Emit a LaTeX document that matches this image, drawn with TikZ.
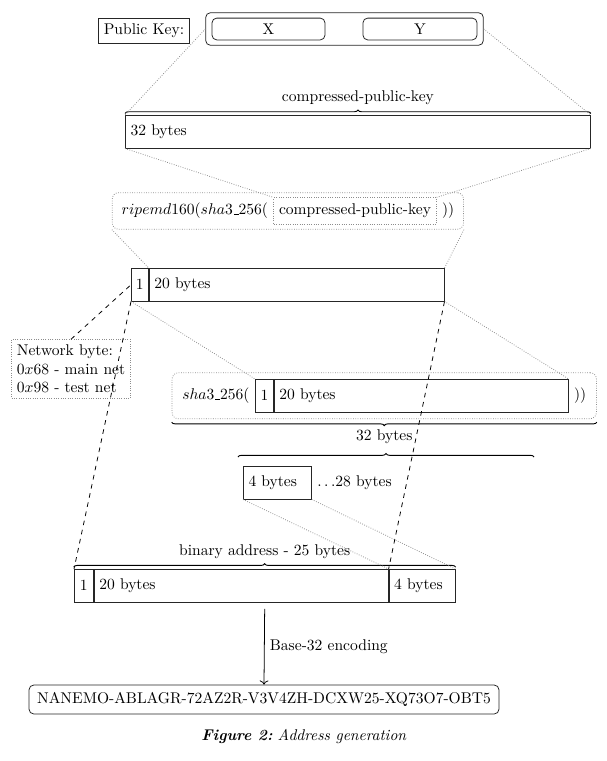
\documentclass[tikz,border=0pt]{standalone}
\usepackage{tikz}
\usepackage{xcolor}
\usetikzlibrary{
    arrows.meta,
    positioning,
    fit,
    decorations.pathreplacing
}
\definecolor{frame}{HTML}{262626}
\definecolor{guide}{HTML}{8C8C8C}
% short underscore as in sha3_256
\newcommand{\uscore}{\mbox{\kern.06em\vbox{\hrule width.3em}}}
\tikzset{
    % Byte field with left aligned text
    fieldcell/.style={
        rectangle,
        draw=frame,
        line width=0.5pt,
        minimum height=21pt,
        inner xsep=3.3pt,
        inner ysep=0pt,
        text width=#1,
        align=left
    },
    % Single byte cell
    bytecell/.style={
        rectangle,
        draw=frame,
        line width=0.5pt,
        minimum height=21pt,
        minimum width=#1,
        inner sep=0pt
    },
    % Dotted grouping frame
    dotframe/.style={
        rectangle,
        draw=guide,
        densely dotted,
        line width=0.5pt
    },
    % Guide lines between stages
    guideline/.style={
        densely dotted,
        draw=guide,
        line width=0.5pt
    },
    % Lines for moved bytes
    pointer/.style={
        dashed,
        draw=black,
        line width=0.5pt
    },
    % Braces over byte ranges
    bytespan/.style={
        decorate,
        decoration={brace, amplitude=2.2pt, raise=#1},
        draw=black,
        line width=0.6pt
    },
    bytespan/.default=1pt
}

\begin{document}
\begin{tikzpicture}[x=0.6427pt, y=-0.6427pt]
        \useasboundingbox (0,0) rectangle (607,761);

        % Public key
        \node[draw=frame, line width=0.5pt, minimum height=16.5pt] (pklabel) at (144,31) {Public Key:};
        \node[draw=frame, line width=0.5pt, rounded corners=3pt, minimum width=72.6pt, minimum height=14pt, inner sep=0pt] (kx) at (268.5,29) {X};
        \node[draw=frame, line width=0.5pt, rounded corners=3pt, minimum width=73.3pt, minimum height=14pt, inner sep=0pt] (ky) at (420,29) {Y};
        \node[draw=frame, line width=0.5pt, rounded corners=3pt, fit=(kx)(ky), inner xsep=3.8pt, inner ysep=3.2pt] (pubkey) {};

        % Compressed public key
        \node[fieldcell=292.3pt, anchor=north west] (cpk) at (125,115) {32 bytes};
        \draw[bytespan] (cpk.north west) -- (cpk.north east) node[midway, above=3pt] {compressed-public-key};
        \draw[guideline] (pubkey.west) -- (cpk.north west);
        \draw[guideline] (pubkey.east) -- (cpk.north east);

        % Hash of the key
        \node[dotframe, minimum height=17pt] (cpkarg) at (355,211) {compressed-public-key};
        \node[left=0pt of cpkarg] (ripl) {$ripemd160(sha3\uscore256($};
        \node[right=0pt of cpkarg] (ripr) {$))$};
        \node[dotframe, rounded corners=4pt, fit=(ripl)(cpkarg)(ripr), inner xsep=2.5pt, inner ysep=3pt] (ripbox) {};
        \draw[guideline] (cpk.south west) -- (cpkarg.north west);
        \draw[guideline] (cpk.south east) -- (cpkarg.north east);

        % Network byte + hash
        \node[bytecell=10.9pt, anchor=north west] (n1) at (131,268) {1};
        \node[fieldcell=183pt, right=0pt of n1] (h20) {20 bytes};
        \draw[guideline] (ripbox.south west) -- (h20.north west);
        \draw[guideline] (ripbox.south east) -- (h20.north east);

        \node[dotframe, align=left] (netbyte) at (71,369) {Network byte:\\$0x68$ - main net\\$0x98$ - test net};
        \draw[pointer] (netbyte.north) -- (n1.west);

        % Checksum hash
        \node[bytecell=11.6pt, anchor=north west] (s1) at (255,379) {1};
        \node[fieldcell=182.4pt, right=0pt of s1] (s20) {20 bytes};
        \node[left=0pt of s1] (shal) {$sha3\uscore256($};
        \node[right=0pt of s20] (shar) {$))$};
        \node[dotframe, rounded corners=4pt, fit=(shal)(s1)(s20)(shar), inner xsep=3pt, inner ysep=4pt] (shabox) {};
        \draw[guideline] (n1.south west) -- (s1.north west);
        \draw[guideline] (h20.south east) -- (s20.north east);
        \draw[bytespan=2pt] (shabox.south east) -- (shabox.south west) node[midway, below=3.5pt] {32 bytes};

        % Checksum bytes
        \node[fieldcell=37.1pt, anchor=north west] (four) at (243,466) {4 bytes};
        \node[right=0pt of four] (rest) {$\ldots$28 bytes};
        \coordinate (chkl) at (238,457);
        \coordinate (chkr) at (534,457);
        \draw[bytespan=0pt] (chkl) -- (chkr);

        % Binary address
        \node[bytecell=12.2pt, anchor=north west] (a1) at (74,569) {1};
        \node[fieldcell=182.4pt, right=0pt of a1] (a20) {20 bytes};
        \node[fieldcell=35.8pt, right=0pt of a20] (b4) {4 bytes};
        \node[fit=(a1)(a20)(b4), inner sep=0pt] (binaddr) {};
        \draw[bytespan] (binaddr.north west) -- (binaddr.north east) node[midway, above=3pt] {binary address - 25 bytes};

        \draw[guideline] (four.south west) -- (b4.north west);
        \draw[guideline] (four.south east) -- (b4.north east);
        \draw[pointer] (n1.south west) -- (a1.north west);
        \draw[pointer] (h20.south east) -- (b4.north west);

        % Encoded address
        \node[draw=frame, line width=0.5pt, rounded corners=3pt, minimum width=302pt, minimum height=18.6pt] (addr) at (264,699.5) {NANEMO-ABLAGR-72AZ2R-V3V4ZH-DCXW25-XQ73O7-OBT5};
        \draw[-{To}, line width=0.5pt] ([yshift=-4pt]binaddr.south) -- (addr.north) node[midway, right] {Base-32 encoding};

        % Caption
        \node (caption) at (304,737) {\textbf{\textit{Figure 2:}}\ \textit{Address generation}};

    \end{tikzpicture}
\end{document}
